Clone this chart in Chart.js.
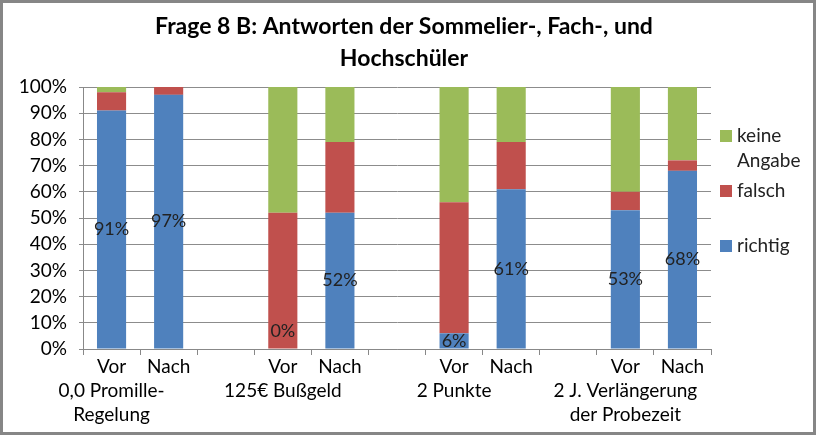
<!DOCTYPE html>
<html>
<head>
    <title>Frage 8 B</title>
    <script src="https://cdn.jsdelivr.net/npm/chart.js"></script>
    <style>
        body { margin: 0; background: #fff; }
    </style>
</head>
<body>
    <canvas id="grafico" width="816" height="435"></canvas>

    <script>
        // Daten
        const phasen = ['Vor', 'Nach', '', 'Vor', 'Nach', '', 'Vor', 'Nach', '', 'Vor', 'Nach'];
        const gruppen = [['0,0 Promille-', 'Regelung'], [], [], ['125€ Bußgeld'], [], [], ['2 Punkte'], [], [], ['2 J. Verlängerung', 'der Probezeit'], []];
        const richtig = [91, 97, null, 0, 52, null, 6, 61, null, 53, 68];
        const falsch = [7, 3, null, 52, 27, null, 50, 18, null, 7, 4];
        const keineAngabe = [2, 0, null, 48, 21, null, 44, 21, null, 40, 28];
        const yTicks = [0, 10, 20, 30, 40, 50, 60, 70, 80, 90, 100];
        const titel = ['Frage 8 B: Antworten der Sommelier-, Fach-, und', 'Hochschüler'];

        const schrift = 'Lato, "Open Sans", sans-serif';
        const labels = phasen.map((p, i) => [p].concat(gruppen[i]));

        // Rahmen und Titel
        const rahmen = {
            id: 'rahmen',
            beforeDraw(chart) {
                const c = chart.ctx;
                c.save();
                c.fillStyle = '#fff';
                c.fillRect(0, 0, chart.width, chart.height);
                c.strokeStyle = '#868686';
                c.lineWidth = 3;
                c.strokeRect(1.5, 1.5, chart.width - 3, chart.height - 3);
                c.fillStyle = '#000';
                c.font = 'bold 23px ' + schrift;
                c.textAlign = 'center';
                c.textBaseline = 'middle';
                titel.forEach((t, k) => c.fillText(t, 404, 27 + k * 32));
                c.restore();
            }
        };

        // Prozentwerte in den blauen Balken
        const werteLabels = {
            id: 'werteLabels',
            afterDatasetsDraw(chart) {
                const c = chart.ctx;
                const meta = chart.getDatasetMeta(0);
                c.save();
                c.font = '18px ' + schrift;
                c.fillStyle = '#222';
                c.textAlign = 'center';
                c.textBaseline = 'middle';
                meta.data.forEach((bar, i) => {
                    const v = richtig[i];
                    if (v === null) return;
                    let y = (bar.y + bar.base) / 2;
                    if (v === 0) y = bar.base - 18;
                    c.fillText(v + '%', bar.x, y);
                });
                c.restore();
            }
        };

        // Legende rechts (umgekehrte Reihenfolge, mit Zeilenumbruch)
        const legende = {
            id: 'legende',
            afterDraw(chart) {
                const c = chart.ctx;
                const area = chart.chartArea;
                const sets = chart.data.datasets.slice().reverse();
                c.save();
                c.font = '19px ' + schrift;
                c.textBaseline = 'middle';
                let y = area.top + 49;
                sets.forEach(ds => {
                    const x = area.right + 9;
                    c.fillStyle = ds.backgroundColor;
                    c.fillRect(x, y - 6, 12, 12);
                    c.fillStyle = '#222';
                    const worte = ds.label.split(' ');
                    worte.forEach((w, k) => c.fillText(w, x + 17, y + k * 25));
                    y += 55;
                });
                c.restore();
            }
        };

        const datos = {
            labels: labels,
            datasets: [
                { label: 'richtig', data: richtig, backgroundColor: '#4F81BD' },
                { label: 'falsch', data: falsch, backgroundColor: '#C0504D' },
                { label: 'keine Angabe', data: keineAngabe, backgroundColor: '#9BBB59' }
            ]
        };

        const configuracion = {
            type: 'bar',
            data: datos,
            plugins: [rahmen, werteLabels, legende],
            options: {
                responsive: false,
                animation: false,
                layout: { padding: { left: 0, right: 105, top: 87, bottom: 0 } },
                datasets: { bar: { barPercentage: 1, categoryPercentage: 0.51 } },
                plugins: {
                    legend: { display: false },
                    tooltip: { enabled: false },
                    title: { display: false }
                },
                scales: {
                    x: {
                        stacked: true,
                        offset: true,
                        grid: { display: true, drawOnChartArea: false, offset: true, tickLength: 6, color: '#888' },
                        border: { color: '#888' },
                        ticks: {
                            color: '#000',
                            font: { family: schrift, size: 19, lineHeight: 1.25 },
                            maxRotation: 0,
                            autoSkip: false,
                            padding: 0
                        },
                        afterFit(s) { s.height = 86; }
                    },
                    y: {
                        stacked: true,
                        min: 0,
                        max: 100,
                        afterBuildTicks(s) { s.ticks = yTicks.map(v => ({ value: v })); },
                        grid: { color: '#8c8c8c', tickLength: 4 },
                        border: { color: '#888' },
                        ticks: {
                            color: '#000',
                            font: { family: schrift, size: 19 },
                            padding: 12,
                            autoSkip: false,
                            callback: v => v + '%'
                        },
                        afterFit(s) { s.width = 83; }
                    }
                }
            }
        };

        const ctx = document.getElementById('grafico').getContext('2d');
        const grafico = new Chart(ctx, configuracion);
    </script>
</body>
</html>
